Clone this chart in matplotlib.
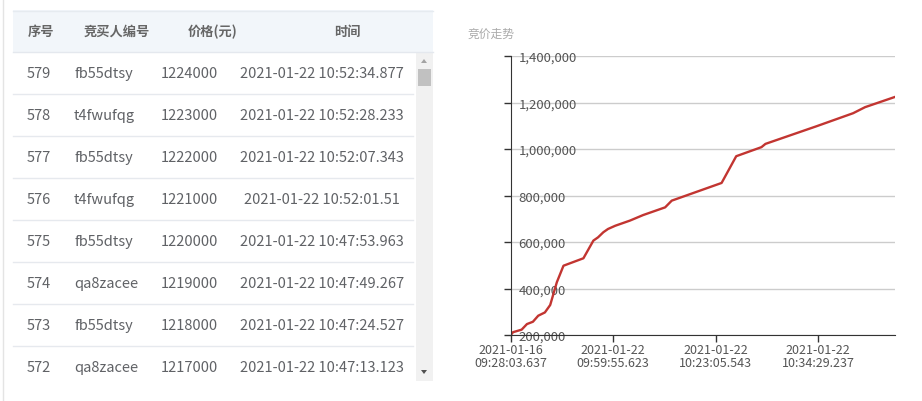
import matplotlib.pyplot as plt
from matplotlib.patches import Rectangle, Polygon

plt.rcParams['font.family'] = ['Noto Sans CJK SC', 'DejaVu Sans']

# table content
headers = ["序号", "竞买人编号", "价格(元)", "时间"]
seq_nums = ["579", "578", "577", "576", "575", "574", "573", "572"]
bidders = ["fb55dtsy", "t4fwufqg", "fb55dtsy", "t4fwufqg",
           "fb55dtsy", "qa8zacee", "fb55dtsy", "qa8zacee"]
prices = ["1224000", "1223000", "1222000", "1221000",
          "1220000", "1219000", "1218000", "1217000"]
times = ["2021-01-22 10:52:34.877", "2021-01-22 10:52:28.233",
         "2021-01-22 10:52:07.343", "2021-01-22 10:52:01.51",
         "2021-01-22 10:47:53.963", "2021-01-22 10:47:49.267",
         "2021-01-22 10:47:24.527", "2021-01-22 10:47:13.123"]

# trend line (bid index, price)
bid_index = [0, 3, 16, 24, 33, 41, 51, 59, 69, 79, 109, 124, 131, 139, 146,
             157, 179, 199, 232, 242, 249, 317, 339, 377, 383, 460, 515, 533, 578]
bid_price = [201000, 212000, 223000, 247000, 257000, 283000, 297000, 329000,
             427000, 498000, 530000, 606000, 620000, 642000, 656000, 670000,
             692000, 716000, 749000, 778000, 785000, 854000, 969000, 1008000,
             1022000, 1098000, 1154000, 1180000, 1224000]
tick_index = [0, 154, 308, 462]
tick_labels = ["2021-01-16\n09:28:03.637", "2021-01-22\n09:59:55.623",
               "2021-01-22\n10:23:05.543", "2021-01-22\n10:34:29.237"]
y_ticks = [200000, 400000, 600000, 800000, 1000000, 1200000, 1400000]

W, H = 922, 402
fig = plt.figure(figsize=(W / 100, H / 100), dpi=100)

# ---- table drawn in pixel space ----
bg = fig.add_axes([0, 0, 1, 1])
bg.set_xlim(0, W)
bg.set_ylim(H, 0)
bg.axis("off")

bg.plot([3, 3], [0, H], color="#e4e4e4", lw=1)
bg.add_patch(Rectangle((13, 11), 420, 42, facecolor="#f2f6fa", edgecolor="none"))
bg.plot([13, 433], [11.5, 11.5], color="#e6ebf0", lw=1)
bg.plot([13, 433], [53, 53], color="#e4e8ee", lw=1)

header_x = [41, 117, 213, 347]
for hx, h in zip(header_x, headers):
    bg.text(hx, 32, h, ha="center", va="center", fontsize=9.5,
            fontweight="bold", color="#666666")

row_h = 42
for r in range(len(seq_nums)):
    cy = 53 + row_h * r + row_h / 2
    bg.text(27, cy, seq_nums[r], ha="left", va="center", fontsize=10.5, color="#606266")
    bg.text(74, cy, bidders[r], ha="left", va="center", fontsize=10.5, color="#606266")
    bg.text(161, cy, prices[r], ha="left", va="center", fontsize=10.5, color="#606266")
    bg.text(322, cy, times[r], ha="center", va="center", fontsize=10.5, color="#606266")
    if r < len(seq_nums) - 1:
        sy = 53 + row_h * (r + 1)
        bg.plot([13, 413], [sy, sy], color="#e6e9ee", lw=1)

# scrollbar
bg.add_patch(Rectangle((416, 53), 17, 329, facecolor="#f1f1f1", edgecolor="none"))
bg.add_patch(Rectangle((418, 70), 13, 17, facecolor="#c1c1c1", edgecolor="none"))
bg.add_patch(Polygon([[421, 64], [427, 64], [424, 60]], facecolor="#a3a3a3", edgecolor="none"))
bg.add_patch(Polygon([[421, 371], [427, 371], [424, 375]], facecolor="#505050", edgecolor="none"))

# ---- trend chart ----
bg.text(468, 34, "竞价走势", ha="left", va="center", fontsize=8.5, color="#aaaaaa")

x0, x1, y_top, y_bot = 511, 895, 57, 336
ax = fig.add_axes([x0 / W, (H - y_bot) / H, (x1 - x0) / W, (y_bot - y_top) / H])
ax.plot(bid_index, bid_price, color="#c23531", lw=1.7, solid_joinstyle="round")
ax.set_xlim(0, 578)
ax.set_ylim(200000, 1400000)

ax.set_yticks(y_ticks)
ax.set_yticklabels([f"{v:,}" for v in y_ticks])
ax.yaxis.grid(True, color="#cccccc", lw=1)
ax.set_axisbelow(True)
ax.tick_params(axis="y", direction="out", length=5, width=1, color="#333333",
               labelsize=9.5, labelcolor="#555555", pad=-10.5)
for lab in ax.get_yticklabels():
    lab.set_horizontalalignment("left")
    lab.set_verticalalignment("center_baseline")

ax.set_xticks(tick_index)
ax.set_xticklabels(tick_labels)
ax.tick_params(axis="x", direction="out", length=5, width=1, color="#333333",
               labelsize=9, labelcolor="#555555", pad=1)
for lab in ax.get_xticklabels():
    lab.set_linespacing(0.95)

for s in ["top", "right"]:
    ax.spines[s].set_visible(False)
ax.spines["left"].set_color("#333333")
ax.spines["bottom"].set_color("#333333")
ax.patch.set_alpha(0)

fig.savefig("out.png", dpi=100)
